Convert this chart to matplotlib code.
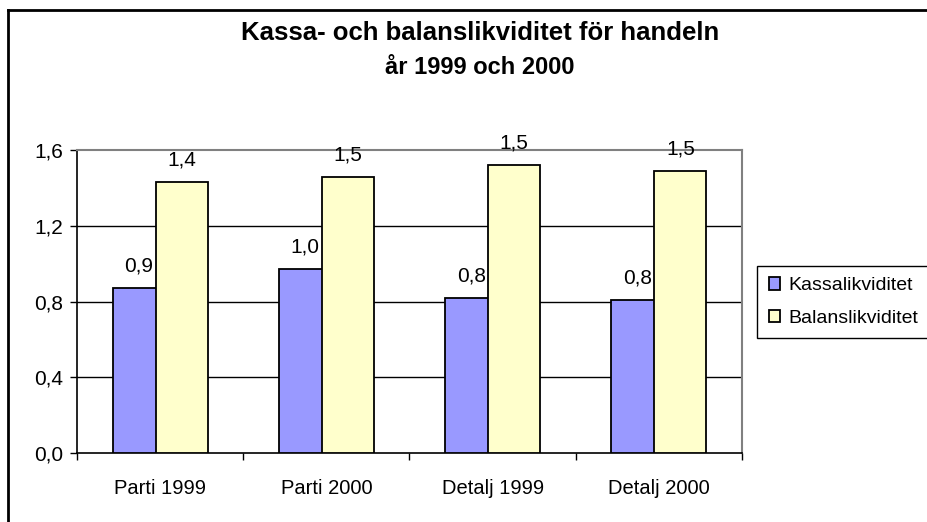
import matplotlib
matplotlib.use("Agg")
import matplotlib.pyplot as plt
from matplotlib.lines import Line2D
import numpy as np

# Data
categories = ["Parti 1999", "Parti 2000", "Detalj 1999", "Detalj 2000"]
kassa = [0.87, 0.97, 0.82, 0.81]
balans = [1.43, 1.46, 1.52, 1.49]
series_names = ["Kassalikviditet", "Balanslikviditet"]
yticks = [0.0, 0.4, 0.8, 1.2, 1.6]

plt.rcParams["font.family"] = ["Liberation Sans", "DejaVu Sans"]

fig = plt.figure(figsize=(9.28, 5.22), dpi=100)
ax = fig.add_axes([77 / 928, 1 - 453 / 522, 665 / 928, 303 / 522])

x = np.arange(len(categories))
w = 0.313
off = 0.129
b1 = ax.bar(x - off, kassa, w, color="#9999FF", edgecolor="black", linewidth=1.3,
            label=series_names[0], zorder=3)
b2 = ax.bar(x + off, balans, w, color="#FFFFCC", edgecolor="black", linewidth=1.3,
            label=series_names[1], zorder=4)

# data labels with decimal comma
for bars, vals in ((b1, kassa), (b2, balans)):
    for rect, v in zip(bars, vals):
        ax.annotate(f"{v:.1f}".replace(".", ","),
                    (rect.get_x() + rect.get_width() / 2, v),
                    xytext=(0, 9), textcoords="offset points",
                    ha="center", va="bottom", fontsize=15, zorder=5)

ax.set_xlim(-0.5, len(categories) - 0.5)
ax.set_ylim(0, 1.6)
ax.set_yticks(yticks)
ax.set_yticklabels([f"{t:.1f}".replace(".", ",") for t in yticks], fontsize=15)
ax.set_xticks(x)
ax.set_xticklabels(categories, fontsize=14.5)
ax.tick_params(axis="x", length=0, pad=19)
ax.set_xticks(np.arange(-0.5, len(categories)), minor=True)
ax.tick_params(axis="x", which="minor", length=5, width=1, color="black")
ax.tick_params(axis="y", length=5, width=1, color="black", pad=5)

for t in yticks[1:-1]:
    ax.axhline(t, color="black", linewidth=1, zorder=1)

for side in ("top", "right"):
    ax.spines[side].set_color("#808080")
    ax.spines[side].set_linewidth(1.5)
for side in ("left", "bottom"):
    ax.spines[side].set_color("black")
    ax.spines[side].set_linewidth(1.2)

fig.text(480 / 928, 1 - 33 / 522, "Kassa- och balanslikviditet för handeln",
         ha="center", va="center", fontsize=18.5, fontweight="bold")
fig.text(480 / 928, 1 - 68 / 522, "år 1999 och 2000",
         ha="center", va="center", fontsize=17, fontweight="bold")

leg = ax.legend(loc="center left", bbox_to_anchor=(757 / 928, 1 - 302 / 522),
                bbox_transform=fig.transFigure, fontsize=14, frameon=True,
                fancybox=False, edgecolor="black", framealpha=1,
                handlelength=0.6, handleheight=0.6, handletextpad=0.4,
                labelspacing=0.8, borderpad=0.6, borderaxespad=0)
leg.get_frame().set_linewidth(1)

# outer chart border (only top and left visible in the reference)
fig.add_artist(Line2D([8 / 928, 1], [1 - 10 / 522, 1 - 10 / 522],
                      transform=fig.transFigure, color="black", linewidth=2))
fig.add_artist(Line2D([8 / 928, 8 / 928], [0, 1 - 10 / 522],
                      transform=fig.transFigure, color="black", linewidth=2))

fig.savefig("out.png", dpi=100)
